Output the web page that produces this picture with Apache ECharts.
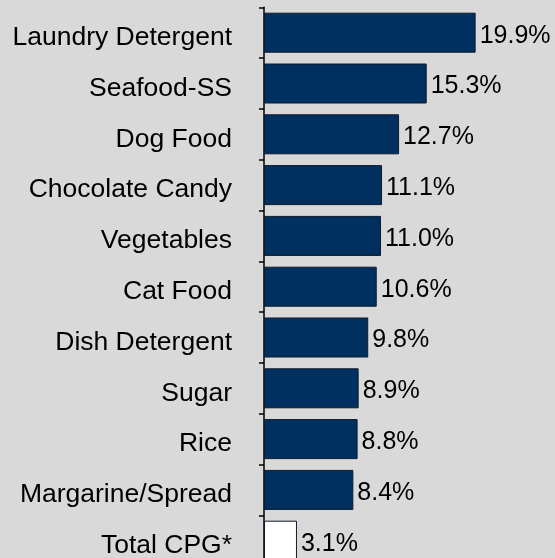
<!DOCTYPE html>
<html>
<head>
<meta charset="utf-8">
<script src="https://cdn.jsdelivr.net/npm/echarts@6/dist/echarts.min.js"></script>
<style>
  html, body { margin: 0; padding: 0; background: #d9d9d9; overflow: hidden; }
  /* The canvas is taller than the view so the last row runs off the lower edge */
  #chart { width: 555px; height: 575px; }
</style>
</head>
<body>
<div id="chart"></div>
<script>
// Share of category growth, top categories plus the all-CPG benchmark
const categories = [
  'Laundry Detergent', 'Seafood-SS', 'Dog Food', 'Chocolate Candy', 'Vegetables',
  'Cat Food', 'Dish Detergent', 'Sugar', 'Rice', 'Margarine/Spread', 'Total CPG*'
];
const values = [19.9, 15.3, 12.7, 11.1, 11.0, 10.6, 9.8, 8.9, 8.8, 8.4, 3.1];
const benchmark = 'Total CPG*';

const NAVY = '#00305f';
const FONT = "'Liberation Sans', Arial, sans-serif";

const chart = echarts.init(document.getElementById('chart'), null, { renderer: 'canvas' });

chart.setOption({
  backgroundColor: '#d9d9d9',
  animation: false,
  grid: { left: 264, top: 7.3, width: 212.7, height: 558.8, containLabel: false },
  xAxis: {
    type: 'value', min: 0, max: 20,
    show: false
  },
  yAxis: {
    type: 'category',
    data: categories,
    inverse: true,
    axisLine: { show: true, lineStyle: { color: '#000', width: 1.5 } },
    axisTick: { show: true, length: 5, lineStyle: { color: '#000', width: 1.5 } },
    axisLabel: {
      margin: 32, color: '#000', fontFamily: FONT, fontSize: 26.5,
      formatter: v => '{name|' + v + '}',
      rich: {
        name: {
          color: '#000', fontFamily: FONT, fontSize: 26.5,
          padding: [10, 0, 0, 0]
        }
      }
    }
  },
  series: [{
    type: 'bar',
    data: values,
    barWidth: 40,
    itemStyle: {
      color: p => (p.name === benchmark ? '#ffffff' : NAVY),
      borderColor: '#0d1a2b',
      borderWidth: 1
    },
    label: {
      show: true,
      position: 'right',
      distance: 4,
      offset: [0, 3],
      color: '#000',
      fontFamily: FONT,
      fontSize: 25,
      formatter: p => p.value.toFixed(1) + '%'
    }
  }]
});
</script>
</body>
</html>
